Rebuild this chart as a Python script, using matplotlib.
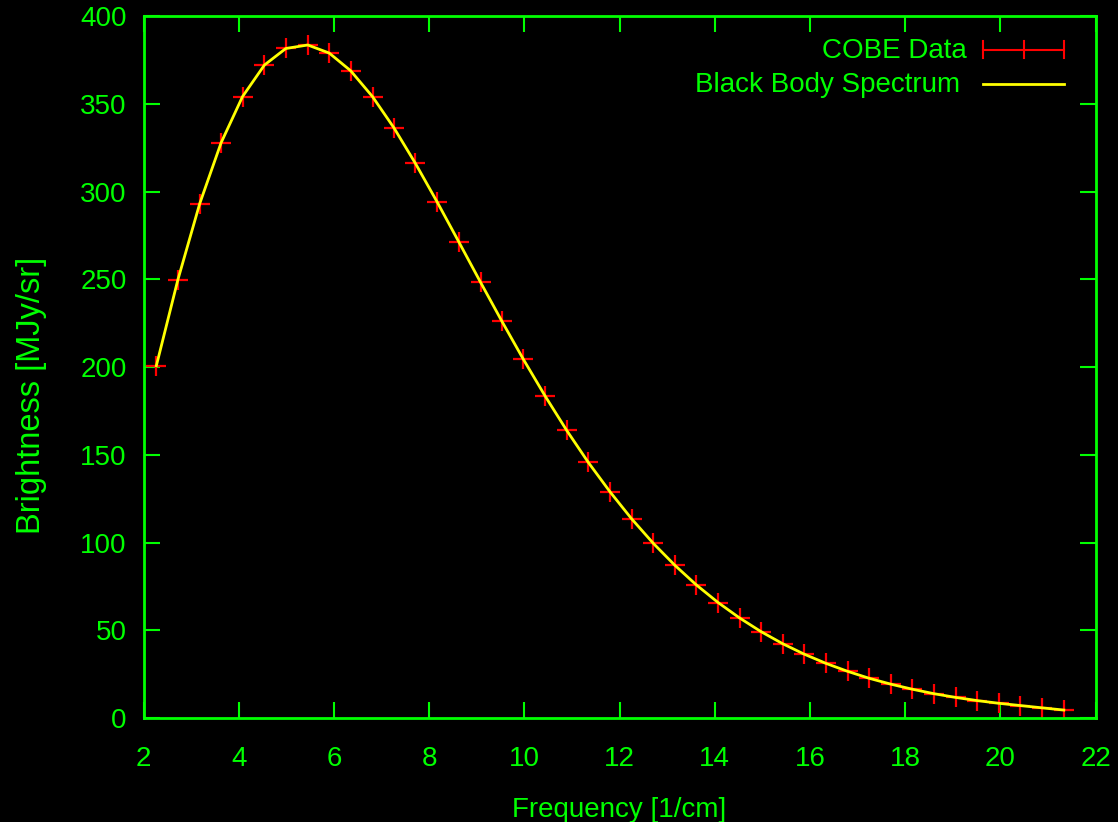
import numpy as np
import matplotlib
matplotlib.use("Agg")
import matplotlib.pyplot as plt
from matplotlib.lines import Line2D

# COBE FIRAS monopole spectrum
freq = [2.27, 2.72, 3.18, 3.63, 4.08, 4.54, 4.99, 5.45, 5.90, 6.35, 6.81,
        7.26, 7.71, 8.17, 8.62, 9.08, 9.53, 9.98, 10.44, 10.89, 11.34,
        11.80, 12.25, 12.71, 13.16, 13.61, 14.07, 14.52, 14.97, 15.43,
        15.88, 16.34, 16.79, 17.24, 17.70, 18.15, 18.61, 19.06, 19.51,
        19.97, 20.42, 20.87, 21.33]
brightness = [200.723, 249.508, 293.024, 327.770, 354.081, 372.079, 381.493,
              383.478, 378.901, 368.833, 354.063, 336.278, 316.076, 293.924,
              271.432, 248.239, 225.940, 204.327, 183.262, 163.830, 145.750,
              128.835, 113.568, 99.451, 87.036, 75.876, 65.766, 57.008,
              49.223, 42.267, 36.352, 31.062, 26.580, 22.644, 19.255, 16.391,
              13.811, 11.716, 9.921, 8.364, 7.087, 5.801, 4.523]

xticks = list(range(2, 23, 2))
yticks = list(range(0, 401, 50))

GREEN = "#00ff00"
RED = "#ff0000"
YELLOW = "#ffff00"

plt.rcParams['font.family'] = ['Liberation Sans', 'DejaVu Sans']

W, H = 1118, 822
fig = plt.figure(figsize=(W / 100, H / 100), dpi=100, facecolor="black")
ax = fig.add_axes([143.5 / W, 1 - 718 / H, (1095.7 - 143.5) / W, (718 - 16) / H])
ax.set_facecolor("black")

# data points, then the spectrum line drawn over them
ax.plot(freq, brightness, linestyle="none", marker="+", color=RED,
        markersize=14, markeredgewidth=1.6, zorder=2)
ax.plot(freq, brightness, color=YELLOW, linewidth=2, zorder=3)

ax.set_xlim(2, 22)
ax.set_ylim(0, 400)
ax.set_xticks(xticks)
ax.set_yticks(yticks)

for s in ax.spines.values():
    s.set_color(GREEN)
    s.set_linewidth(2)
ax.tick_params(direction="in", length=11.5, width=1.5, color=GREEN,
               labelcolor=GREEN, labelsize=20, top=True, right=True)
ax.tick_params(axis="x", pad=20)
ax.tick_params(axis="y", pad=12)

ax.set_xlabel("Frequency [1/cm]", color=GREEN, fontsize=20, labelpad=18)
ax.set_ylabel("Brightness [MJy/sr]", color=GREEN, fontsize=23.5)
ax.yaxis.set_label_coords((47 - 143.5) / 951.2, (718 - 395) / 702)

# key in the upper right corner
def fx(px):
    return px / W

def fy(py):
    return 1 - py / H

fig.text(fx(967), fy(51), "COBE Data", color=GREEN, fontsize=20,
         ha="right", va="center")
fig.text(fx(960), fy(85), "Black Body Spectrum", color=GREEN, fontsize=20,
         ha="right", va="center")
x0, x1, xm = fx(983), fx(1064), fx(1023.5)
yc = fy(50)
dy = 8.5 / H
key = [
    Line2D([x0, x1], [yc, yc], color=RED, lw=1.5),
    Line2D([x0, x0], [yc - dy, yc + dy], color=RED, lw=1.5),
    Line2D([x1, x1], [yc - dy, yc + dy], color=RED, lw=1.5),
    Line2D([xm, xm], [yc - dy, yc + dy], color=RED, lw=1.5),
    Line2D([x0, x1], [fy(84), fy(84)], color=YELLOW, lw=2),
]
for ln in key:
    fig.add_artist(ln)

fig.savefig("out.png", dpi=100, facecolor="black")
